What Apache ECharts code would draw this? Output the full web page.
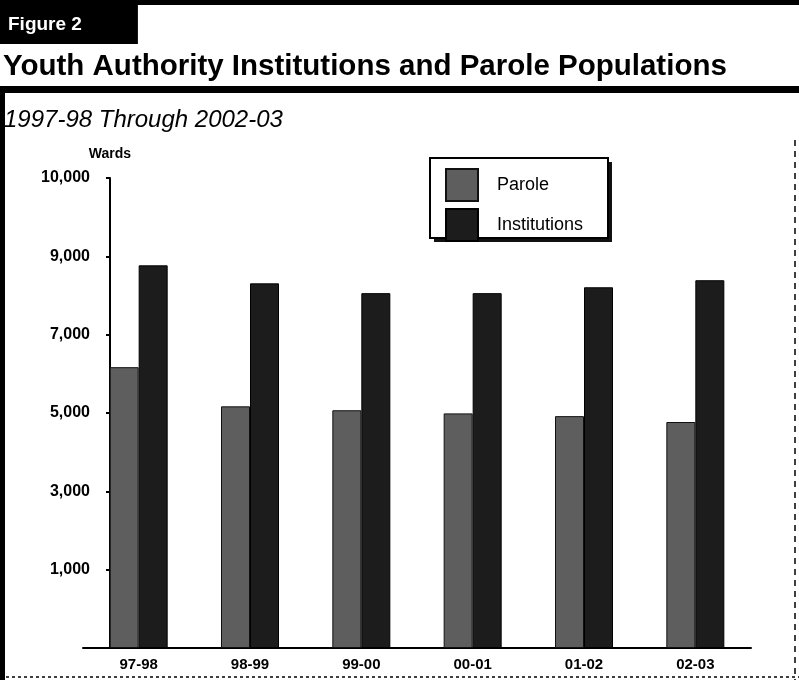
<!DOCTYPE html>
<html>
<head>
<meta charset="utf-8">
<script src="https://cdn.jsdelivr.net/npm/echarts@6/dist/echarts.min.js"></script>
<style>
  html, body { margin: 0; padding: 0; background: #fff; }
  #chart { width: 799px; height: 680px; }
</style>
</head>
<body>
<div id="chart"></div>
<script>
// ---- data ----
var categories = ['97-98', '98-99', '99-00', '00-01', '01-02', '02-03'];
var paroleValues = [7170, 6170, 6070, 5990, 5920, 5770];
var institutionValues = [9770, 9310, 9060, 9060, 9210, 9390];
// tick labels as printed on the axis (bottom to top, baseline unlabeled)
var yTickLabels = ['', '1,000', '3,000', '5,000', '7,000', '9,000', '10,000'];
var seriesNames = ['Parole', 'Institutions'];

var FONT = "'Liberation Sans', Arial, sans-serif";
var chart = echarts.init(document.getElementById('chart'), null, { renderer: 'canvas' });

chart.setOption({
  animation: false,
  backgroundColor: '#ffffff',
  textStyle: { fontFamily: FONT, color: '#000' },
  title: [
    {
      text: 'Figure 2',
      left: 0, top: 5,
      padding: [10, 56, 10, 8],
      backgroundColor: '#000',
      textStyle: { color: '#fff', fontSize: 19, fontWeight: 'bold', fontFamily: FONT }
    },
    {
      text: 'Youth Authority Institutions and Parole Populations',
      left: 3, top: 52, padding: 0,
      textStyle: { color: '#000', fontSize: 29.5, fontWeight: 'bold', fontFamily: FONT }
    },
    {
      text: '1997-98 Through 2002-03',
      left: 4, top: 108, padding: 0,
      textStyle: { color: '#000', fontSize: 24, fontStyle: 'italic', fontWeight: 'normal', fontFamily: FONT }
    }
  ],
  graphic: [
    { type: 'rect', z: -10, shape: { x: 0, y: 0, width: 799, height: 5 }, style: { fill: '#000' } },
    { type: 'rect', z: -10, shape: { x: 0, y: 86, width: 799, height: 7 }, style: { fill: '#000' } },
    { type: 'rect', z: -10, shape: { x: 0, y: 93, width: 5, height: 587 }, style: { fill: '#000' } },
    { type: 'line', z: -10, shape: { x1: 795, y1: 140, x2: 795, y2: 680 }, style: { stroke: '#000', lineWidth: 1.5, lineDash: [6, 5] } },
    { type: 'line', z: -10, shape: { x1: 0, y1: 677, x2: 799, y2: 677 }, style: { stroke: '#000', lineWidth: 1.5, lineDash: [3, 3] } },
    // legend frame with heavy drop edge
    { type: 'rect', z: -5, shape: { x: 434, y: 162, width: 178, height: 80 }, style: { fill: '#111' } },
    { type: 'rect', z: -4, shape: { x: 430, y: 158, width: 178, height: 80 }, style: { fill: '#fff', stroke: '#000', lineWidth: 2 } }
  ],
  legend: {
    orient: 'vertical',
    left: 430, top: 158,
    padding: [10, 20, 6, 15],
    itemGap: 6,
    itemWidth: 32,
    itemHeight: 32,
    icon: 'rect',
    textStyle: { fontSize: 18, color: '#000', fontFamily: FONT, padding: [0, 0, 0, 14] },
    data: seriesNames
  },
  grid: { left: 83, top: 178, width: 668, height: 470, containLabel: false },
  xAxis: {
    type: 'category',
    data: categories,
    axisLine: { lineStyle: { color: '#000', width: 2 } },
    axisTick: { show: false },
    axisLabel: { color: '#000', fontSize: 15, fontWeight: 'bold', margin: 9, fontFamily: FONT },
    splitLine: { show: false }
  },
  yAxis: {
    type: 'value',
    min: 0, max: 12000, interval: 2000,
    offset: -27,
    name: 'Wards',
    nameLocation: 'end',
    nameGap: 24,
    nameTextStyle: { color: '#000', fontSize: 14, fontWeight: 'bold', align: 'center', verticalAlign: 'middle', fontFamily: FONT },
    axisLine: { show: true, lineStyle: { color: '#000', width: 2 } },
    axisTick: { show: true, length: 4, lineStyle: { color: '#000', width: 2 } },
    axisLabel: {
      color: '#000', fontSize: 16, fontWeight: 'bold', margin: 20, fontFamily: FONT,
      formatter: function (v) { return yTickLabels[Math.round(v / 2000)] || ''; }
    },
    splitLine: { show: false }
  },
  series: [
    {
      name: seriesNames[0],
      type: 'bar',
      data: paroleValues,
      barWidth: 29,
      barGap: '0%',
      itemStyle: { color: '#5e5e5e', borderColor: '#111', borderWidth: 1 }
    },
    {
      name: seriesNames[1],
      type: 'bar',
      data: institutionValues,
      barWidth: 29,
      barGap: '0%',
      itemStyle: { color: '#1c1c1c', borderColor: '#000', borderWidth: 1 }
    }
  ]
});
</script>
</body>
</html>
